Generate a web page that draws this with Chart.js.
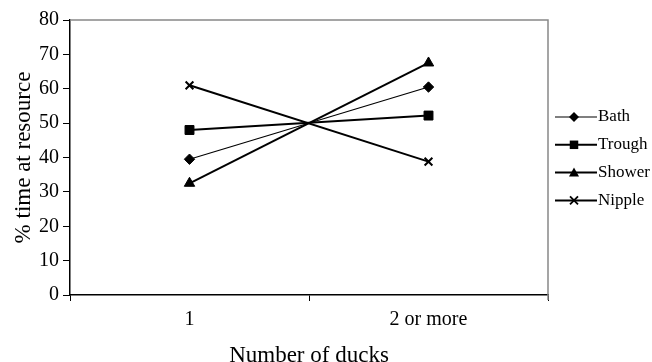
<!DOCTYPE html>
<html>
<head>
<meta charset="utf-8">
<script src="https://cdn.jsdelivr.net/npm/chart.js@4.4.1/dist/chart.umd.min.js"></script>
<style>
  html, body { margin: 0; padding: 0; background: #fff; }
  #wrap { width: 652px; height: 362px; }
</style>
</head>
<body>
<div id="wrap"><canvas id="chart" width="652" height="362"></canvas></div>
<script>
const categories = ["1", "2 or more"];
const bath = [39.5, 60.5];
const trough = [48, 52.2];
const shower = [32.5, 67.5];
const nipple = [61, 38.8];
const seriesNames = ["Bath", "Trough", "Shower", "Nipple"];
const markerStyles = ["rectRot", "rect", "triangle", "crossRot"];

const serif = "'Liberation Serif', 'Times New Roman', serif";

// draw marker for the legend
function drawMarker(ctx, style, x, y, r) {
  ctx.beginPath();
  if (style === "rectRot") {
    ctx.moveTo(x, y - r); ctx.lineTo(x + r, y); ctx.lineTo(x, y + r); ctx.lineTo(x - r, y);
    ctx.closePath(); ctx.fill();
  } else if (style === "rect") {
    ctx.rect(x - r * 0.85, y - r * 0.85, r * 1.7, r * 1.7); ctx.fill();
  } else if (style === "triangle") {
    ctx.moveTo(x, y - r); ctx.lineTo(x + r, y + r * 0.8); ctx.lineTo(x - r, y + r * 0.8);
    ctx.closePath(); ctx.fill();
  } else {
    ctx.moveTo(x - r * 0.8, y - r * 0.8); ctx.lineTo(x + r * 0.8, y + r * 0.8);
    ctx.moveTo(x + r * 0.8, y - r * 0.8); ctx.lineTo(x - r * 0.8, y + r * 0.8);
    ctx.lineWidth = 1.8; ctx.stroke();
  }
}

const framePlugin = {
  id: "frame",
  beforeDatasetsDraw(chart) {
    const { ctx, chartArea: a } = chart;
    ctx.save();
    ctx.strokeStyle = "#888";
    ctx.lineWidth = 1.5;
    ctx.beginPath();
    ctx.moveTo(a.left, a.top); ctx.lineTo(a.right, a.top); ctx.lineTo(a.right, a.bottom + 5);
    ctx.stroke();
    ctx.restore();
  },
  afterDraw(chart) {
    const { ctx, chartArea: a } = chart;
    ctx.save();
    chart.data.datasets.forEach((ds, i) => {
      const y = 117 + i * 27.8;
      const x0 = a.right + 7;
      ctx.strokeStyle = "#000";
      ctx.fillStyle = "#000";
      ctx.lineWidth = ds.borderWidth;
      ctx.beginPath(); ctx.moveTo(x0, y); ctx.lineTo(x0 + 42, y); ctx.stroke();
      drawMarker(ctx, ds.pointStyle, x0 + 19, y, 5);
      ctx.font = "17px " + serif;
      ctx.textBaseline = "middle";
      ctx.textAlign = "left";
      ctx.fillText(ds.label, x0 + 43, y);
    });
    ctx.restore();
  }
};

const seriesData = [bath, trough, shower, nipple];
const radii = [5.2, 6.3, 6, 5.5];
const datasets = seriesData.map((d, i) => ({
  label: seriesNames[i],
  data: d,
  borderColor: "#000",
  backgroundColor: "#000",
  borderWidth: i === 0 ? 1.2 : 2,
  pointStyle: markerStyles[i],
  pointRadius: radii[i],
  pointBorderWidth: i === 3 ? 2 : 1,
  tension: 0
}));

new Chart(document.getElementById("chart"), {
  type: "line",
  data: { labels: categories, datasets: datasets },
  plugins: [framePlugin],
  options: {
    responsive: false,
    animation: false,
    layout: { padding: { left: 0, right: 104, top: 20, bottom: 0 } },
    plugins: { legend: { display: false }, tooltip: { enabled: false } },
    scales: {
      x: {
        offset: true,
        grid: { offset: true, drawOnChartArea: false, color: "#000", tickLength: 6, lineWidth: 1 },
        border: { color: "#000", width: 1.5 },
        ticks: { color: "#000", font: { family: serif, size: 20 }, padding: 7 },
        title: { display: true, text: "Number of ducks", color: "#000", font: { family: serif, size: 23 }, padding: { top: 4, bottom: -8 } },
        afterFit(s) { s.height = 67; }
      },
      y: {
        min: 0, max: 80,
        ticks: { stepSize: 10, color: "#000", font: { family: serif, size: 20 }, padding: 4 },
        grid: { drawOnChartArea: false, color: "#000", tickLength: 7 },
        border: { color: "#000", width: 1.5 },
        title: { display: true, text: "% time at resource", color: "#000", font: { family: serif, size: 23 }, padding: { top: 10, bottom: 0 } },
        afterFit(s) { s.width = 70; }
      }
    }
  }
});
</script>
</body>
</html>
